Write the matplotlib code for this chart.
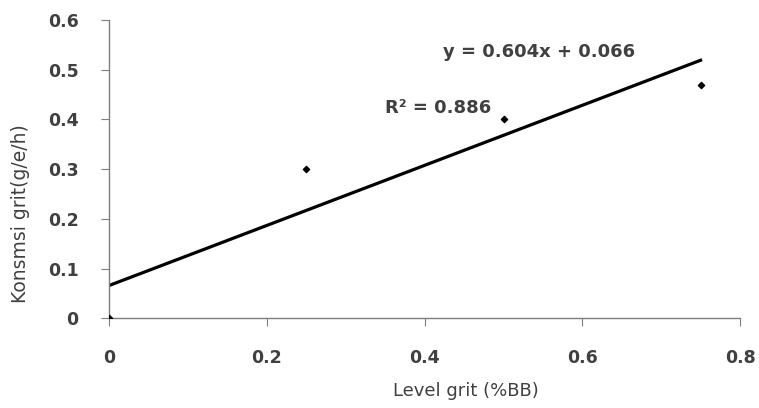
import matplotlib.pyplot as plt
import numpy as np

level_grit = [0.0, 0.25, 0.5, 0.75]
konsumsi_grit = [0.0, 0.30, 0.40, 0.47]
slope = 0.604
intercept = 0.066
r_squared = 0.886

x_ticks = [0, 0.2, 0.4, 0.6, 0.8]
y_ticks = [0, 0.1, 0.2, 0.3, 0.4, 0.5, 0.6]
x_tick_labels = ['0', '0.2', '0.4', '0.6', '0.8']
y_tick_labels = ['0', '0.1', '0.2', '0.3', '0.4', '0.5', '0.6']

plt.rcParams['font.family'] = ['DejaVu Sans']

fig = plt.figure(figsize=(7.59, 4.08), dpi=100)
ax = fig.add_axes([0.144, 0.22, 0.831, 0.731])

# trendline over the data range
xs = np.array([min(level_grit), max(level_grit)])
ax.plot(xs, slope * xs + intercept, color='black', linewidth=2.3, zorder=2)
ax.scatter(level_grit, konsumsi_grit, marker='D', s=10, color='black', zorder=3)

ax.set_xlim(0, 0.8)
ax.set_ylim(0, 0.6)
ax.set_xticks(x_ticks)
ax.set_yticks(y_ticks)
ax.set_xticklabels(x_tick_labels)
ax.set_yticklabels(y_tick_labels)

for side in ['top', 'right']:
    ax.spines[side].set_visible(False)
for side in ['left', 'bottom']:
    ax.spines[side].set_color('#7f7f7f')
    ax.spines[side].set_linewidth(1.0)

ax.tick_params(axis='both', direction='out', length=6, color='#7f7f7f',
               labelsize=12.5, labelcolor='#404040')
ax.tick_params(axis='x', pad=16)
ax.tick_params(axis='y', pad=16)
for lbl in ax.get_xticklabels() + ax.get_yticklabels():
    lbl.set_fontweight('bold')

ax.set_xlabel('Level grit (%BB)', fontsize=13, color='#404040')
ax.set_ylabel('Konsmsi grit(g/e/h)', fontsize=13.5, color='#404040')
ax.xaxis.set_label_coords(0.566, -0.215)
ax.yaxis.set_label_coords(-0.125, 0.35)

ax.text(0.423, 0.536, f'y = {slope}x + {intercept}', fontsize=13,
        fontweight='bold', color='#404040', va='center')
ax.text(0.35, 0.423, f'R² = {r_squared}', fontsize=13,
        fontweight='bold', color='#404040', va='center')

fig.savefig('out.png', dpi=100)
